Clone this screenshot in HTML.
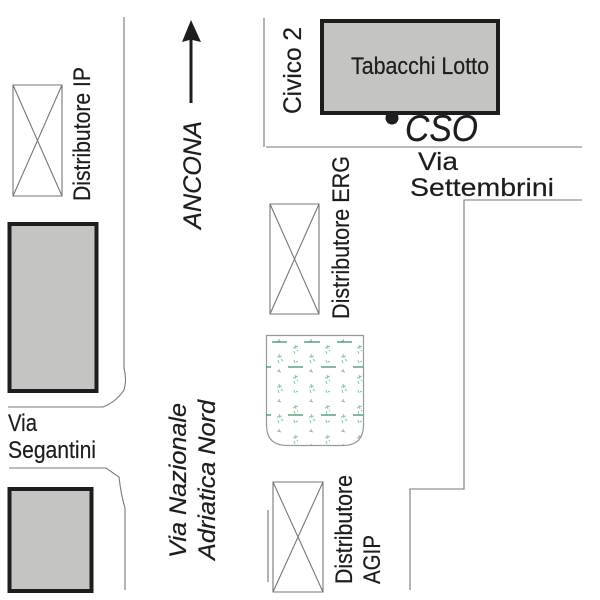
<!DOCTYPE html>
<html><head><meta charset="utf-8"><style>html,body{margin:0;padding:0;background:#fff}svg{display:block}text{font-family:"Liberation Sans",sans-serif;fill:#1d1d1b;stroke:#1d1d1b;stroke-width:.2px}</style></head><body>
<svg width="600" height="600" viewBox="0 0 600 600" xmlns="http://www.w3.org/2000/svg">
<defs><pattern id="p" x="266" y="335" width="32" height="30" patternUnits="userSpaceOnUse">
<path d="M29 10l1 4M27 13l5-2M31 15l2 2M28 16l1 3M13 19l1 4M11 22l5-1M15 24l2 2M12 25l1 3M28 25l1 3M30 27l2-1M13 4l1 3M11 6l4 1" stroke="#8cc8aa" stroke-width="1.1" fill="none"/>
</pattern></defs>
<g fill="none" stroke="#777" stroke-width="1.1">
<path d="M124 17V368Q127 380 124 390Q116 402 103 407H8"/>
<path d="M9 468H106L119 477Q121 495 125 508V590"/>
<path d="M264 18V147M266 147H582M582 200H464V489H410V590M268 510V582"/>
<path d="M13 85H62V196H13ZM13 85L62 196M62 85L13 196"/>
<path d="M270 204H319V314H270ZM270 204L319 314M319 204L270 314"/>
<path d="M273 482H323V592H273ZM273 482L323 592M323 482L273 592"/>
</g>
<g fill="#c4c4c2" stroke="#1d1d1b" stroke-width="4">
<rect x="9.500" y="224" width="87" height="167"/>
<rect x="9.500" y="489" width="82" height="102"/>
<rect x="322" y="21" width="176" height="92"/>
</g>
<path d="M266.500 335.500H363.500V425Q363.500 445.500 343 445.500H287Q266.500 445.500 266.500 425Z" fill="url(#p)" stroke="#999" stroke-width="1.200"/>
<path d="M272 342H287M304 342H320M337 342H352M266 367H271M288 367H303M321 367H336M353 367H363M266 415H271M288 415H303M321 415H336M353 415H363" stroke="#3f8f68" stroke-width="1.300" fill="none"/>
<path d="M191 20L201 42L192.500 40V103H189.500V40L182 42Z" fill="#1d1d1b"/>
<circle cx="392" cy="118" r="6.500" fill="#1d1d1b"/>
<text x="351" y="74" font-size="24" textLength="138" lengthAdjust="spacingAndGlyphs">Tabacchi Lotto</text>
<text x="405" y="141" font-size="37" font-style="italic" textLength="73" lengthAdjust="spacingAndGlyphs">CSO</text>
<text x="418" y="170" font-size="25" textLength="40" lengthAdjust="spacingAndGlyphs">Via</text>
<text x="410" y="196" font-size="25" textLength="144" lengthAdjust="spacingAndGlyphs">Settembrini</text>
<text x="8" y="431" font-size="24" textLength="29" lengthAdjust="spacingAndGlyphs">Via</text>
<text x="8" y="458" font-size="24" textLength="88" lengthAdjust="spacingAndGlyphs">Segantini</text>
<text transform="translate(301 114) rotate(-90)" font-size="25" textLength="87" lengthAdjust="spacingAndGlyphs">Civico 2</text>
<text transform="translate(90 201) rotate(-90)" font-size="24" textLength="134" lengthAdjust="spacingAndGlyphs">Distributore IP</text>
<text transform="translate(201 229) rotate(-90)" font-size="25" font-style="italic" textLength="108" lengthAdjust="spacingAndGlyphs">ANCONA</text>
<text transform="translate(349 319) rotate(-90)" font-size="24" textLength="163" lengthAdjust="spacingAndGlyphs">Distributore ERG</text>
<text transform="translate(186 558) rotate(-90)" font-size="24" font-style="italic" textLength="155" lengthAdjust="spacingAndGlyphs">Via Nazionale</text>
<text transform="translate(215 560) rotate(-90)" font-size="24" font-style="italic" textLength="160" lengthAdjust="spacingAndGlyphs">Adriatica Nord</text>
<text transform="translate(352 584) rotate(-90)" font-size="24" textLength="109" lengthAdjust="spacingAndGlyphs">Distributore</text>
<text transform="translate(380 584) rotate(-90)" font-size="24" textLength="49" lengthAdjust="spacingAndGlyphs">AGIP</text>
</svg>
</body></html>
